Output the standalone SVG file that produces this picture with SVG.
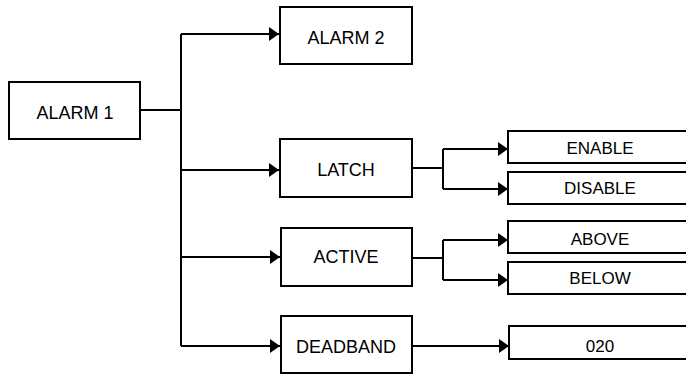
<svg xmlns="http://www.w3.org/2000/svg" width="686" height="375" viewBox="0 0 686 375">
<defs>
<style>
.box{fill:#fff;stroke:#000;stroke-width:2}
.t{font-family:"Liberation Sans",Arial,sans-serif;font-size:18px;fill:#000;text-anchor:middle}
.s{font-size:17px}
.c{fill:none;stroke:#000;stroke-width:2}
</style>
<marker id="ah" markerWidth="10" markerHeight="14" refX="10" refY="7" orient="auto" markerUnits="userSpaceOnUse">
<path d="M0,0 L10,7 L0,14 Z" fill="#000"/>
</marker>
</defs>
<rect width="686" height="375" fill="#fff"/>
<g id="connectors">
<path class="c" d="M140,110 H181"/>
<path class="c" d="M181,34 V346"/>
<path class="c" d="M181,34 H279" marker-end="url(#ah)"/>
<path class="c" d="M181,170 H279" marker-end="url(#ah)"/>
<path class="c" d="M181,257 H280" marker-end="url(#ah)"/>
<path class="c" d="M181,346 H280" marker-end="url(#ah)"/>
<path class="c" d="M412,168 H443"/>
<path class="c" d="M443,149 V189"/>
<path class="c" d="M443,149 H508" marker-end="url(#ah)"/>
<path class="c" d="M443,189 H508" marker-end="url(#ah)"/>
<path class="c" d="M412,258 H443"/>
<path class="c" d="M443,240 V280"/>
<path class="c" d="M443,240 H508" marker-end="url(#ah)"/>
<path class="c" d="M443,280 H508" marker-end="url(#ah)"/>
<path class="c" d="M412,346 H509" marker-end="url(#ah)"/>
</g>
<g id="alarm1"><rect class="box" x="9" y="82" width="131" height="57"/><text class="t" x="75" y="119">ALARM 1</text></g>
<g id="alarm2"><rect class="box" x="280" y="7" width="132" height="57"/><text class="t" x="346" y="44">ALARM 2</text></g>
<g id="latch"><rect class="box" x="280" y="139" width="132" height="58"/><text class="t" x="346" y="176">LATCH</text></g>
<g id="active"><rect class="box" x="281" y="228" width="131" height="58"/><text class="t" x="346" y="263">ACTIVE</text></g>
<g id="deadband"><rect class="box" x="281" y="316" width="131" height="57"/><text class="t" x="346" y="353">DEADBAND</text></g>
<g id="enable"><rect class="box" x="508" y="131" width="190" height="32"/><text class="t s" x="600" y="154">ENABLE</text></g>
<g id="disable"><rect class="box" x="508" y="172" width="190" height="32"/><text class="t s" x="600" y="194">DISABLE</text></g>
<g id="above"><rect class="box" x="508" y="221" width="190" height="32"/><text class="t s" x="600" y="245">ABOVE</text></g>
<g id="below"><rect class="box" x="508" y="262" width="190" height="32"/><text class="t s" x="600" y="284">BELOW</text></g>
<g id="v020"><rect class="box" x="509" y="326" width="190" height="33"/><text class="t s" x="600" y="352">020</text></g>
</svg>
